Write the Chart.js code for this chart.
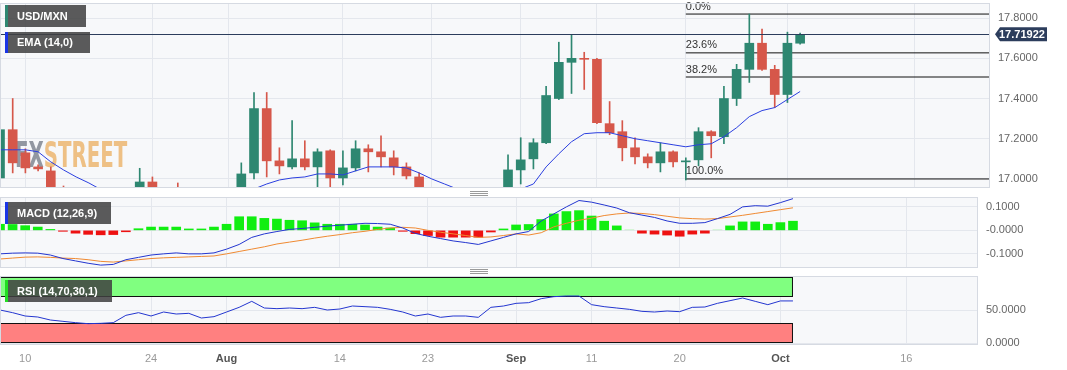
<!DOCTYPE html>
<html>
<head>
<meta charset="utf-8">
<script src="https://cdn.jsdelivr.net/npm/chart.js@4.4.0/dist/chart.umd.min.js"></script>
<style>
body { margin: 0; background: #fff; font-family: "Liberation Sans", Arial, sans-serif; }
#wrap { position: relative; width: 1067px; height: 370px; overflow: hidden; }
canvas { position: absolute; left: 0; }
.tag { position: absolute; left: 5px; height: 22px; line-height: 22px; background: rgba(64,64,64,.86);
       color: #fff; font-weight: bold; font-size: 11px; padding-left: 9px; box-sizing: border-box; border-left: 3px solid; }
.handle { position: absolute; left: 470px; width: 18px; height: 5px;
          background: repeating-linear-gradient(#9a9a9a 0 1px, transparent 1px 2px); }
</style>
</head>
<body>
<div id="wrap">
  <canvas id="price" width="1067" height="190" style="top:0"></canvas>
  <canvas id="macd" width="1067" height="80" style="top:190px"></canvas>
  <canvas id="rsi" width="1067" height="100" style="top:270px"></canvas>
  <div class="tag" style="top:5px;width:81px;border-color:#2e8771">USD/MXN</div>
  <div class="tag" style="top:32px;width:85px;height:21px;line-height:21px;border-color:#1a35e6">EMA (14,0)</div>
  <div class="tag" style="top:202px;width:106px;border-color:#1a35e6">MACD (12,26,9)</div>
  <div class="tag" style="top:280px;width:107px;border-color:#22dd22">RSI (14,70,30,1)</div>
  <div class="handle" style="top:191px"></div>
  <div class="handle" style="top:269px"></div>
</div>
<script>
// trading days, Jul 6 .. Oct 3 2023
const days = ['Jul 6','Jul 7','Jul 10','Jul 11','Jul 12','Jul 13','Jul 14','Jul 17','Jul 18','Jul 19',
  'Jul 20','Jul 21','Jul 24','Jul 25','Jul 26','Jul 27','Jul 28','Jul 31','Aug 1','Aug 2',
  'Aug 3','Aug 4','Aug 7','Aug 8','Aug 9','Aug 10','Aug 11','Aug 14','Aug 15','Aug 16',
  'Aug 17','Aug 18','Aug 21','Aug 22','Aug 23','Aug 24','Aug 25','Aug 28','Aug 29','Aug 30',
  'Aug 31','Sep 1','Sep 4','Sep 5','Sep 6','Sep 7','Sep 8','Sep 11','Sep 12','Sep 13',
  'Sep 14','Sep 15','Sep 18','Sep 19','Sep 20','Sep 21','Sep 22','Sep 25','Sep 26','Sep 27',
  'Sep 28','Sep 29','Oct 2','Oct 3'];

const open = [17.005,17.245,17.13,17.06,17.04,16.90,16.86,16.80,16.82,16.80,
  16.76,16.85,16.985,16.86,16.84,16.80,16.85,16.73,16.72,16.86,
  17.03,17.35,17.09,17.06,17.10,17.06,17.14,17.005,17.055,17.15,
  17.135,17.105,17.06,17.01,16.92,16.84,16.92,16.90,16.85,16.80,
  16.82,17.045,17.10,17.18,17.40,17.58,17.60,17.595,17.275,17.235,
  17.155,17.11,17.08,17.135,17.085,17.095,17.235,17.21,17.40,17.545,
  17.675,17.545,17.42,17.675];
const high = [17.385,17.40,17.15,17.07,17.06,16.965,16.90,16.86,16.88,16.85,
  16.90,17.053,17.01,16.93,16.98,16.90,16.88,16.80,16.90,17.08,
  17.43,17.43,17.155,17.29,17.19,17.15,17.145,17.14,17.19,17.17,
  17.215,17.14,17.08,17.03,16.95,16.95,16.95,16.93,16.88,16.86,
  17.12,17.205,17.20,17.46,17.68,17.715,17.63,17.60,17.385,17.29,
  17.205,17.125,17.18,17.14,17.105,17.255,17.24,17.46,17.57,17.82,
  17.745,17.565,17.73,17.725];
const low = [16.98,17.03,17.03,17.04,16.85,16.82,16.75,16.75,16.78,16.73,
  16.74,16.82,16.83,16.80,16.78,16.72,16.70,16.69,16.70,16.84,
  17.00,17.01,17.025,17.05,17.045,16.95,16.95,16.97,17.04,17.035,
  17.06,17.02,17.00,16.88,16.80,16.80,16.86,16.82,16.76,16.74,
  16.79,16.975,17.05,17.175,17.395,17.425,17.445,17.275,17.22,17.09,
  17.075,17.055,17.035,17.06,16.995,17.065,17.105,17.175,17.365,17.48,
  17.54,17.355,17.38,17.67];
const close = [17.245,17.08,17.055,17.05,16.90,16.86,16.80,16.82,16.80,16.76,
  16.85,16.985,16.86,16.84,16.80,16.85,16.73,16.72,16.86,17.025,
  17.35,17.09,17.065,17.10,17.06,17.135,17.005,17.055,17.15,17.135,
  17.11,17.06,17.015,16.92,16.84,16.92,16.90,16.85,16.80,16.82,
  17.045,17.095,17.18,17.415,17.58,17.60,17.595,17.28,17.23,17.155,
  17.11,17.08,17.135,17.085,17.09,17.235,17.215,17.40,17.545,17.675,
  17.545,17.42,17.675,17.71922];
const ema = [17.145,17.145,17.145,17.135,17.085,17.045,17.01,16.98,16.945,16.92,
  16.91,16.91,16.90,16.89,16.88,16.87,16.87,16.86,16.89,16.92,
  16.95,16.975,16.995,17.005,17.01,17.025,17.025,17.02,17.04,17.06,
  17.06,17.06,17.055,17.03,17.00,16.975,16.95,16.93,16.92,16.92,
  16.93,16.95,16.975,17.06,17.125,17.185,17.225,17.23,17.23,17.215,
  17.20,17.19,17.18,17.17,17.16,17.17,17.175,17.21,17.255,17.31,
  17.34,17.355,17.395,17.435];

const macd = [-0.100,-0.097,-0.096,-0.097,-0.105,-0.120,-0.130,-0.140,-0.148,-0.145,
  -0.125,-0.115,-0.105,-0.100,-0.096,-0.100,-0.100,-0.096,-0.080,-0.060,
  -0.030,-0.015,-0.005,0.004,0.008,0.013,0.018,0.022,0.026,0.030,
  0.029,0.026,0.010,-0.013,-0.025,-0.035,-0.045,-0.052,-0.060,-0.045,
  -0.030,-0.015,-0.005,0.040,0.070,0.100,0.127,0.120,0.108,0.095,
  0.075,0.065,0.055,0.040,0.030,0.030,0.033,0.050,0.068,0.100,
  0.105,0.103,0.118,0.135];
const signal = [-0.122,-0.118,-0.114,-0.113,-0.115,-0.118,-0.120,-0.125,-0.132,-0.135,
  -0.130,-0.125,-0.120,-0.117,-0.115,-0.113,-0.111,-0.109,-0.100,-0.090,
  -0.080,-0.070,-0.058,-0.050,-0.042,-0.033,-0.025,-0.018,-0.010,-0.004,
  0.004,0.010,0.013,0.010,0.000,-0.008,-0.015,-0.022,-0.030,-0.028,
  -0.022,-0.015,-0.020,-0.010,0.015,0.030,0.043,0.052,0.063,0.070,
  0.074,0.072,0.067,0.060,0.053,0.050,0.048,0.050,0.057,0.064,
  0.072,0.080,0.088,0.096];
const hist = [0.026,0.025,0.020,0.014,0.004,-0.004,-0.012,-0.017,-0.019,-0.018,
  -0.006,0.007,0.014,0.014,0.014,0.006,0.006,0.014,0.026,0.058,
  0.058,0.051,0.048,0.043,0.041,0.032,0.026,0.026,0.026,0.023,
  0.014,0.010,-0.004,-0.014,-0.022,-0.029,-0.029,-0.029,-0.029,-0.007,
  0.006,0.023,0.025,0.046,0.070,0.080,0.084,0.061,0.039,0.019,
  0.003,-0.012,-0.016,-0.020,-0.025,-0.016,-0.012,0.003,0.019,0.036,
  0.036,0.026,0.033,0.039];
const rsi = [50,46,41,39.5,35,33,31,29.5,30,31,
  42,46,41,47,44,45,38,40,47,54,
  63,53,52,53,52,54,50,51.5,56,55,
  54,51,47,41,44,39,41,41,39,54,
  56,60,61,67,70,71,71,58,55,53,
  51,48,47,48.5,47.5,54,54.5,60,64,68,
  63,58,63.6,63.6];

// date axis: positions (trading-day index) and their labels
const tickIdx = [2, 12, 18, 27, 34, 41, 47, 54, 62, 72];
const tickText = ['10', '24', 'Aug', '14', '23', 'Sep', '11', '20', 'Oct', '16'];
const priceTicks = [17.0, 17.2, 17.4, 17.6, 17.8];
const macdTicks = [-0.1, 0, 0.1];
const rsiTicks = [0, 50];
const fibStart = 54;
const fibLevels = [17.82, 17.627, 17.507, 17.0];
const fibNames = ['0.0%', '23.6%', '38.2%', '100.0%'];
const lastPrice = 17.71922;
const rsiZones = [[70, 100, '#80ff80'], [0, 30, '#ff8080']];

const GREEN = '#2e8771', RED = '#d6574a', GRID = '#e4e7ed';
const FONT = { family: '"Liberation Sans", Arial, sans-serif', size: 11 };

const pts = arr => arr.map((v, i) => ({ x: i, y: v }));
const candleCol = open.map((o, i) => close[i] >= o ? GREEN : RED);
const isMonth = c => {
  const t = c && c.tick ? tickText[tickIdx.indexOf(c.tick.value)] : '';
  return /[A-Z]/.test(t || '');
};

const paneBg = {
  id: 'paneBg',
  beforeDraw(chart) {
    const { ctx, chartArea: a } = chart;
    ctx.save();
    ctx.fillStyle = '#f7f8fa';
    ctx.fillRect(a.left, a.top, a.right - a.left, a.bottom - a.top);
    ctx.restore();
  },
  afterDraw(chart) {
    const { ctx, chartArea: a } = chart;
    ctx.save();
    ctx.strokeStyle = '#d6dae2';
    ctx.lineWidth = 1;
    ctx.strokeRect(a.left + 0.5, a.top + 0.5, a.right - a.left - 1, a.bottom - a.top);
    ctx.restore();
  }
};

function xAxis(max, showLabels) {
  return {
    type: 'linear', min: 0, max: max, offset: false,
    grid: { color: GRID, drawTicks: false, offset: false },
    border: { display: false },
    afterBuildTicks: a => { a.ticks = tickIdx.map(v => ({ value: v })); },
    afterFit: a => {
      a.height = showLabels ? 26 : 0;
      a.paddingLeft = a.paddingRight = a.paddingTop = a.paddingBottom = 0;
    },
    ticks: {
      display: showLabels, padding: 8, maxRotation: 0, autoSkip: false,
      callback: v => tickText[tickIdx.indexOf(v)],
      color: c => isMonth(c) ? '#555' : '#999',
      font: c => ({ family: FONT.family, size: 11, weight: isMonth(c) ? 'bold' : 'normal' })
    }
  };
}

function yAxis(min, max, list, width, fmt) {
  return {
    position: 'right', min: min, max: max,
    grid: { color: GRID, drawTicks: false },
    border: { display: false },
    afterBuildTicks: a => { a.ticks = list.map(v => ({ value: v })); },
    afterFit: a => {
      a.width = width;
      a.paddingLeft = a.paddingRight = a.paddingTop = a.paddingBottom = 0;
    },
    ticks: { padding: 8, color: '#666', font: FONT, callback: fmt }
  };
}

const base = {
  responsive: false, animation: false,
  plugins: { legend: { display: false }, tooltip: { enabled: false } }
};

// ---- price panel
const priceDecor = {
  id: 'priceDecor',
  beforeDatasetsDraw(chart) {
    const { ctx } = chart;
    ctx.save();
    ctx.translate(15, 167);
    ctx.scale(0.55, 1);
    ctx.font = 'bold 36px "DejaVu Sans"';
    ctx.fillStyle = 'rgba(128,134,145,0.85)';
    ctx.fillText('FX', 0, 0);
    const w = ctx.measureText('FX').width;
    ctx.fillStyle = 'rgba(236,182,112,0.85)';
    ctx.fillText('STREET', w, 0);
    ctx.restore();
  },
  afterDatasetsDraw(chart) {
    const { ctx, chartArea: a, scales: { x, y } } = chart;
    ctx.save();
    ctx.font = '11px "Liberation Sans", Arial';
    ctx.fillStyle = '#333';
    ctx.textBaseline = 'bottom';
    const fx = x.getPixelForValue(fibStart);
    fibLevels.forEach((lv, i) => ctx.fillText(fibNames[i], fx, y.getPixelForValue(lv) - 2));
    const py = Math.round(y.getPixelForValue(lastPrice)) + 0.5;
    ctx.strokeStyle = '#2c3d5c';
    ctx.lineWidth = 1;
    ctx.beginPath(); ctx.moveTo(a.left, py); ctx.lineTo(a.right, py); ctx.stroke();
    ctx.restore();
  },
  afterDraw(chart) {
    const { ctx, chartArea: a, scales: { y } } = chart;
    const py = y.getPixelForValue(lastPrice);
    ctx.save();
    ctx.fillStyle = '#2c3d5c';
    ctx.beginPath();
    ctx.moveTo(a.right + 5, py);
    ctx.lineTo(a.right + 10, py - 7);
    ctx.lineTo(a.right + 57, py - 7);
    ctx.lineTo(a.right + 57, py + 7);
    ctx.lineTo(a.right + 10, py + 7);
    ctx.closePath();
    ctx.fill();
    ctx.fillStyle = '#fff';
    ctx.font = 'bold 11px "Liberation Sans", Arial';
    ctx.textBaseline = 'middle';
    ctx.fillText(lastPrice.toFixed(5), a.right + 9, py + 0.5);
    ctx.restore();
  }
};

new Chart(document.getElementById('price'), {
  type: 'bar',
  data: {
    datasets: [
      { type: 'line', data: pts(ema), borderColor: '#2b3fe0', borderWidth: 1, pointRadius: 0, order: 1 },
      { data: open.map((o, i) => ({ x: i, y: [o, close[i]] })), backgroundColor: candleCol,
        barThickness: 9, minBarLength: 1, grouped: false, order: 2 },
      { data: low.map((l, i) => ({ x: i, y: [l, high[i]] })), backgroundColor: candleCol,
        barThickness: 1, grouped: false, order: 3 },
      ...fibLevels.map(lv => ({ type: 'line', data: [{ x: fibStart, y: lv }, { x: 80, y: lv }],
        borderColor: '#111', borderWidth: 1, pointRadius: 0, order: 4 }))
    ]
  },
  options: {
    ...base,
    layout: { padding: { top: 3, bottom: 3, left: 0, right: 0 } },
    scales: {
      x: xAxis(77.95, false),
      y: yAxis(16.96, 17.875, priceTicks, 77, v => v.toFixed(4))
    }
  },
  plugins: [paneBg, priceDecor]
});

// ---- MACD panel
new Chart(document.getElementById('macd'), {
  type: 'bar',
  data: {
    datasets: [
      { type: 'line', data: pts(macd), borderColor: '#2436d0', borderWidth: 1, pointRadius: 0, order: 1 },
      { type: 'line', data: pts(signal), borderColor: '#f08a32', borderWidth: 1, pointRadius: 0, order: 2 },
      { data: pts(hist), barThickness: 9, grouped: false, order: 3,
        backgroundColor: hist.map(v => v < 0 ? '#ee1111' : (v < 0.0035 ? '#c4f4c4' : '#11ee11')) }
    ]
  },
  options: {
    ...base,
    layout: { padding: { top: 7, bottom: 3, left: 0, right: 0 } },
    scales: {
      x: xAxis(77.7, false),
      y: yAxis(-0.156, 0.142, macdTicks, 89, v => v === 0 ? '-0.0000' : v.toFixed(4))
    }
  },
  plugins: [paneBg]
});

// ---- RSI panel
const zones = {
  id: 'zones',
  beforeDatasetsDraw(chart) {
    const { ctx, scales: { x, y } } = chart;
    const x0 = x.getPixelForValue(0), x1 = x.getPixelForValue(rsi.length - 1);
    ctx.save();
    rsiZones.forEach(([lo, hi, col]) => {
      const yt = Math.round(y.getPixelForValue(hi)), yb = Math.round(y.getPixelForValue(lo));
      ctx.fillStyle = col;
      ctx.fillRect(x0, yt, x1 - x0, yb - yt);
      ctx.strokeStyle = '#111';
      ctx.lineWidth = 1;
      ctx.strokeRect(x0 + 0.5, yt + 0.5, x1 - x0 - 1, yb - yt - 1);
    });
    ctx.restore();
  }
};

new Chart(document.getElementById('rsi'), {
  type: 'line',
  data: {
    datasets: [
      { data: pts(rsi), borderColor: '#2436d0', borderWidth: 1, pointRadius: 0 }
    ]
  },
  options: {
    ...base,
    layout: { padding: { top: 6, bottom: 0, left: 0, right: 0 } },
    scales: {
      x: xAxis(77.7, true),
      y: yAxis(-1, 101, rsiTicks, 89, v => v.toFixed(4))
    }
  },
  plugins: [paneBg, zones]
});
</script>
</body>
</html>
